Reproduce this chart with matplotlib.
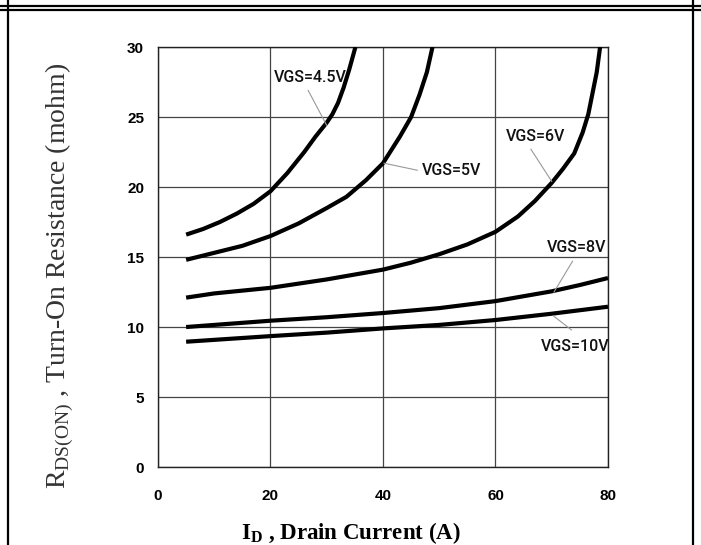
import matplotlib
matplotlib.use('Agg')
import matplotlib.pyplot as plt
from matplotlib.lines import Line2D

plt.rcParams['mathtext.fontset'] = 'custom'
plt.rcParams['mathtext.rm'] = 'Liberation Serif'
plt.rcParams['mathtext.bf'] = 'Liberation Serif:bold'

# ---- data ----
x_45 = [5, 8, 11, 14, 17, 20, 23, 26, 28, 30, 31, 32, 33, 34, 35.1]
y_45 = [16.6, 17.0, 17.5, 18.1, 18.8, 19.7, 21.0, 22.5, 23.6, 24.6, 25.2, 26.0, 27.1, 28.4, 30.0]

x_5 = [5, 10, 15, 20, 25, 30, 33.5, 37, 40, 43, 45, 46.5, 47.8, 48.8]
y_5 = [14.8, 15.3, 15.8, 16.5, 17.4, 18.5, 19.3, 20.5, 21.7, 23.6, 25.0, 26.6, 28.2, 30.0]

x_6 = [5, 10, 20, 30, 40, 45, 50, 55, 60, 64, 67, 70, 72, 74, 75.5, 76.5, 77.3, 78.0, 78.6]
y_6 = [12.1, 12.4, 12.8, 13.4, 14.1, 14.6, 15.2, 15.9, 16.8, 17.9, 19.0, 20.3, 21.3, 22.4, 23.9, 25.2, 26.8, 28.2, 30.0]

x_8 = [5, 20, 30, 40, 50, 60, 70, 75, 80]
y_8 = [10.0, 10.45, 10.7, 11.0, 11.35, 11.85, 12.55, 13.0, 13.5]

x_10 = [5, 20, 30, 40, 50, 60, 70, 80]
y_10 = [8.95, 9.35, 9.6, 9.9, 10.15, 10.5, 10.95, 11.45]

labels = ['VGS=4.5V', 'VGS=5V', 'VGS=6V', 'VGS=8V', 'VGS=10V']
xticks = [0, 20, 40, 60, 80]
yticks = [0, 5, 10, 15, 20, 25, 30]

fig = plt.figure(figsize=(7.01, 5.45), dpi=100)
ax = fig.add_axes([0.2254, 0.1431, 0.6419, 0.7706])

for xs, ys in [(x_45, y_45), (x_5, y_5), (x_6, y_6), (x_8, y_8), (x_10, y_10)]:
    ax.plot(xs, ys, color='black', lw=3, solid_capstyle='butt', zorder=3)

ax.set_xlim(0, 80)
ax.set_ylim(0, 30)
ax.set_xticks(xticks)
ax.set_yticks(yticks)
ax.tick_params(length=0, labelsize=11)
ax.tick_params(axis='x', pad=16)
ax.tick_params(axis='y', pad=10)
for t in ax.get_xticklabels() + ax.get_yticklabels():
    t.set_fontweight('bold')
    t.set_family('Liberation Sans')
ax.grid(True, color='#444444', lw=0.9)
ax.set_axisbelow(True)
for s in ax.spines.values():
    s.set_color('#222222')
    s.set_linewidth(1.0)

# curve labels with thin leader lines
label_pos = [(20.6, 27.8), (46.9, 21.2), (61.9, 23.6), (69.2, 15.7), (68.0, 8.64)]
leaders = [((26.7, 30.0), (26.9, 24.4)), ((40.2, 46.1), (21.7, 21.2)),
           ((66.3, 70.0), (22.7, 20.4)), ((73.7, 70.4), (14.7, 12.5)),
           ((70.3, 73.5), (10.8, 9.79))]
for lab, (tx, ty), (lx, ly) in zip(labels, label_pos, leaders):
    ax.text(tx, ty, lab, fontsize=11.5, va='center', ha='left',
            family='Roboto', fontweight='medium', color='#111111')
    ax.plot(lx, ly, color='#999999', lw=0.8, zorder=4)

fig.text(0.0856, 0.4936, r'R$_{\mathrm{DS(ON)}}$ , Turn-On Resistance (mohm)',
         rotation=90, ha='center', va='center', family='Liberation Serif',
         fontsize=20, color='#333333')
fig.text(0.5007, 0.022, r'I$_{\mathbf{D}}$ , Drain Current (A)', ha='center', va='center',
         family='Liberation Serif', fontweight='bold', fontsize=16.5, color='black')

# table-cell frame around the chart
W, H = 701, 545
def fline(x0, x1, y0, y1, lw):
    fig.add_artist(Line2D([x0 / W, x1 / W], [1 - y0 / H, 1 - y1 / H],
                          transform=fig.transFigure, color='black', lw=lw))
fline(0, W, 6, 6, 1.6)
fline(0, W, 10, 10, 1.6)
fline(8, 8, 0, H, 1.6)
fline(693, 693, 0, H, 1.6)

fig.savefig('out.png', dpi=100)
